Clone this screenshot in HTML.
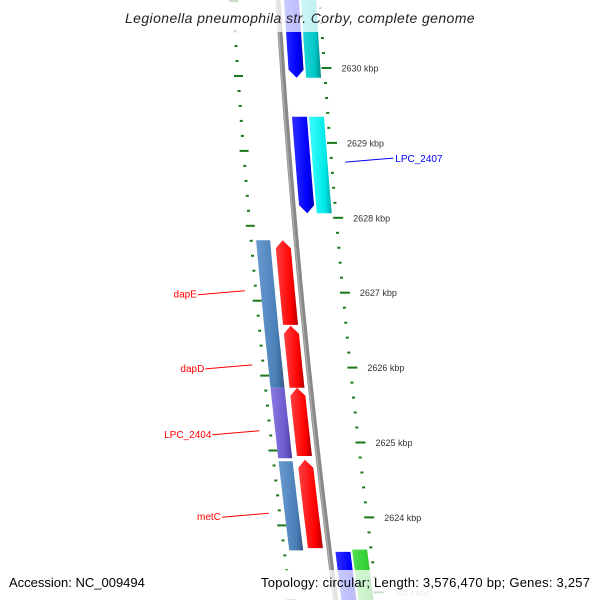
<!DOCTYPE html>
<html><head><meta charset="utf-8">
<style>
html,body{margin:0;padding:0;background:#fff;overflow:hidden;width:600px;height:600px;}
svg{display:block;font-family:"Liberation Sans","DejaVu Sans",sans-serif;overflow:hidden;}
</style></head>
<body>
<svg id="map" width="600" height="600" viewBox="0 0 600 600" xmlns="http://www.w3.org/2000/svg">
<defs>
<clipPath id="frame"><rect x="0" y="0" width="600" height="600"/></clipPath>
<linearGradient id="gblue" x1="0" x2="1"><stop offset="0" stop-color="#3030ff"/><stop offset="0.7" stop-color="#0000ff"/><stop offset="1" stop-color="#0000b0"/></linearGradient>
<linearGradient id="gcyan" x1="0" x2="1"><stop offset="0" stop-color="#40ffff"/><stop offset="0.7" stop-color="#00e8e8"/><stop offset="1" stop-color="#00a8a8"/></linearGradient>
<linearGradient id="gcyan2" x1="0" x2="1"><stop offset="0" stop-color="#30d8d8"/><stop offset="0.7" stop-color="#00c8c8"/><stop offset="1" stop-color="#009090"/></linearGradient>
<linearGradient id="gsteel" x1="0" x2="1"><stop offset="0" stop-color="#6a9ad0"/><stop offset="0.7" stop-color="#4a80b8"/><stop offset="1" stop-color="#335a88"/></linearGradient>
<linearGradient id="gpurple" x1="0" x2="1"><stop offset="0" stop-color="#8a7ae0"/><stop offset="0.7" stop-color="#6a5acd"/><stop offset="1" stop-color="#4a3a9a"/></linearGradient>
<linearGradient id="gred" x1="0" x2="1"><stop offset="0" stop-color="#ff4040"/><stop offset="0.7" stop-color="#ff0000"/><stop offset="1" stop-color="#b00000"/></linearGradient>
<linearGradient id="ggreen" x1="0" x2="1"><stop offset="0" stop-color="#50e050"/><stop offset="0.7" stop-color="#32cd32"/><stop offset="1" stop-color="#208a20"/></linearGradient>
</defs>
<g clip-path="url(#frame)">
<g id="marks"></g>
<g id="labels"></g>
<rect x="0" y="0" width="600" height="32" fill="#fff" opacity="0.75"/>
<text x="300" y="23" text-anchor="middle" font-size="14" font-style="italic" fill="#222" letter-spacing="0.4">Legionella pneumophila str. Corby, complete genome</text>
<rect x="0" y="570" width="600" height="30" fill="#fff" opacity="0.75"/>
<text x="9" y="587" font-size="13" fill="#000">Accession: NC_009494</text>
<text x="261" y="587" font-size="13" fill="#000" textLength="329" lengthAdjust="spacing">Topology: circular; Length: 3,576,470 bp; Genes: 3,257</text>
</g>
</svg>
<script>
const majorTicksKbp=[2630,2629,2628,2627,2626,2625,2624,2623];
const featureNames=["blue-cds-1","cyan-cds-1","blue-cds-2","cyan-cds-2","steel-cds-1","purple-cds","steel-cds-2","red-cds-1","red-cds-2","red-cds-3","red-cds-4","blue-cds-3","green-cds"];
const featureStart=[2631.04,2631.04,2629.35,2629.35,2627.70,2625.73,2624.75,2627.70,2626.56,2625.73,2624.77,2623.54,2623.57];
const featureEnd=[2629.87,2629.87,2628.06,2628.06,2625.73,2624.79,2623.56,2626.57,2625.73,2624.82,2623.59,2622.80,2622.80];
const featureTrack=["pos1","pos2","pos1","pos2","neg2","neg2","neg2","neg1","neg1","neg1","neg1","pos1","pos2"];
const featureArrow=["down","none","down","none","none","none","none","up","up","up","up","none","none"];
const featureFill=["gblue","gcyan2","gblue","gcyan","gsteel","gpurple","gsteel","gred","gred","gred","gred","gblue","ggreen"];
const geneLabels=["LPC_2407","dapE","dapD","LPC_2404","metC"];
const geneLabelKbp=[2628.77,2627.00,2626.01,2625.13,2624.03];
const geneLabelSide=["right","left","left","left","left"];

const yOf=k=>68+(2630-k)*74.9;
const bx=y=>278+0.0617*y+5.7e-5*y*y;
const tracks={pos1:[6,21],pos2:[23,38],neg1:[-21,-6],neg2:[-40,-26]};
const NS="http://www.w3.org/2000/svg";
const marks=document.getElementById('marks');
const labels=document.getElementById('labels');
function mk(tag,attrs,parent){const e=document.createElementNS(NS,tag);for(const k in attrs)e.setAttribute(k,attrs[k]);parent.appendChild(e);return e;}

let bp=[];for(let y=-5;y<=605;y+=5)bp.push(bx(y).toFixed(1)+","+y);
const bb=mk('polyline',{points:bp.join(" "),fill:"none",stroke:"#888",'stroke-width':5},marks);


const bb2=mk('polyline',{points:bp.map(p=>{const [x,y]=p.split(",");return (+x-1.2).toFixed(1)+","+y}).join(" "),fill:"none",stroke:"#aaa",'stroke-width':1.5},marks);



const kMin=2622.6,kMax=2631.2;
for(let i=Math.ceil(kMin*5);i<=Math.floor(kMax*5);i++){
  const k=i/5;const major=(i%5===0);
  let y=yOf(k);
  const xr=bx(y)+42;
  const t=mk('rect',{x:(major?xr-3:xr-1.5).toFixed(1),y:(y-1).toFixed(1),width:major?10:3,height:2,fill:"#1a7a1a"},marks);
  
  
  let yl=y+8;
  const xl=bx(yl)-45;
  const t2=mk('rect',{x:(major?xl-4:xl-1.5).toFixed(1),y:(yl-1).toFixed(1),width:major?9:3,height:2,fill:"#1a7a1a"},marks);
  
  
}
majorTicksKbp.forEach((k,i)=>{
  const y=yOf(k);
  const tx=mk('text',{x:(bx(y)+59).toFixed(1),y:(y+3.5).toFixed(1),'font-size':9,fill:i===7?"#bbb":"#333"},labels);
  tx.textContent=k+" kbp";
  
  
});

featureNames.forEach((n,i)=>{
  const y1=yOf(featureStart[i]),y2=yOf(featureEnd[i]);
  const [d1,d2]=tracks[featureTrack[i]];const dm=(d1+d2)/2;
  const ah=8;const arr=featureArrow[i];
  let ya=y1,yb=y2;
  if(arr==="up")ya=y1+ah; if(arr==="down")yb=y2-ah;
  const L=[],R=[];
  for(let s=0;s<=20;s++){const y=ya+(yb-ya)*s/20;L.push([bx(y)+d1,y]);R.push([bx(y)+d2,y]);}
  let pts=[];
  if(arr==="up"){pts.push([bx(y1)+dm,y1]);}
  pts=pts.concat(R);
  if(arr==="down"){pts.push([bx(y2)+dm,y2]);}
  pts=pts.concat(L.reverse());
  const p=mk('polygon',{points:pts.map(q=>q[0].toFixed(1)+","+q[1].toFixed(1)).join(" "),fill:"url(#"+featureFill[i]+")"},marks);
  
  
});

geneLabels.forEach((g,i)=>{
  const y=yOf(geneLabelKbp[i]);
  const right=geneLabelSide[i]==="right";
  const col=right?"#0000ff":"#ff0000";
  let x0,x1,tx,y0,y1;
  if(right){x0=bx(y)+56;x1=x0+48;tx=x1+2;y0=y+2;y1=y-2;}
  else{x0=bx(y)-56;x1=x0-47;tx=x1-1;y0=y-2;y1=y+2;}
  const ln=mk('line',{x1:x0.toFixed(1),y1:y0.toFixed(1),x2:x1.toFixed(1),y2:y1.toFixed(1),stroke:col,'stroke-width':1},labels);
  
  
  const t=mk('text',{x:tx.toFixed(1),y:(right?y+2:y+5).toFixed(1),'font-size':10,fill:col,'text-anchor':right?'start':'end'},labels);
  t.textContent=g;
  
  
});
</script>
</body></html>
